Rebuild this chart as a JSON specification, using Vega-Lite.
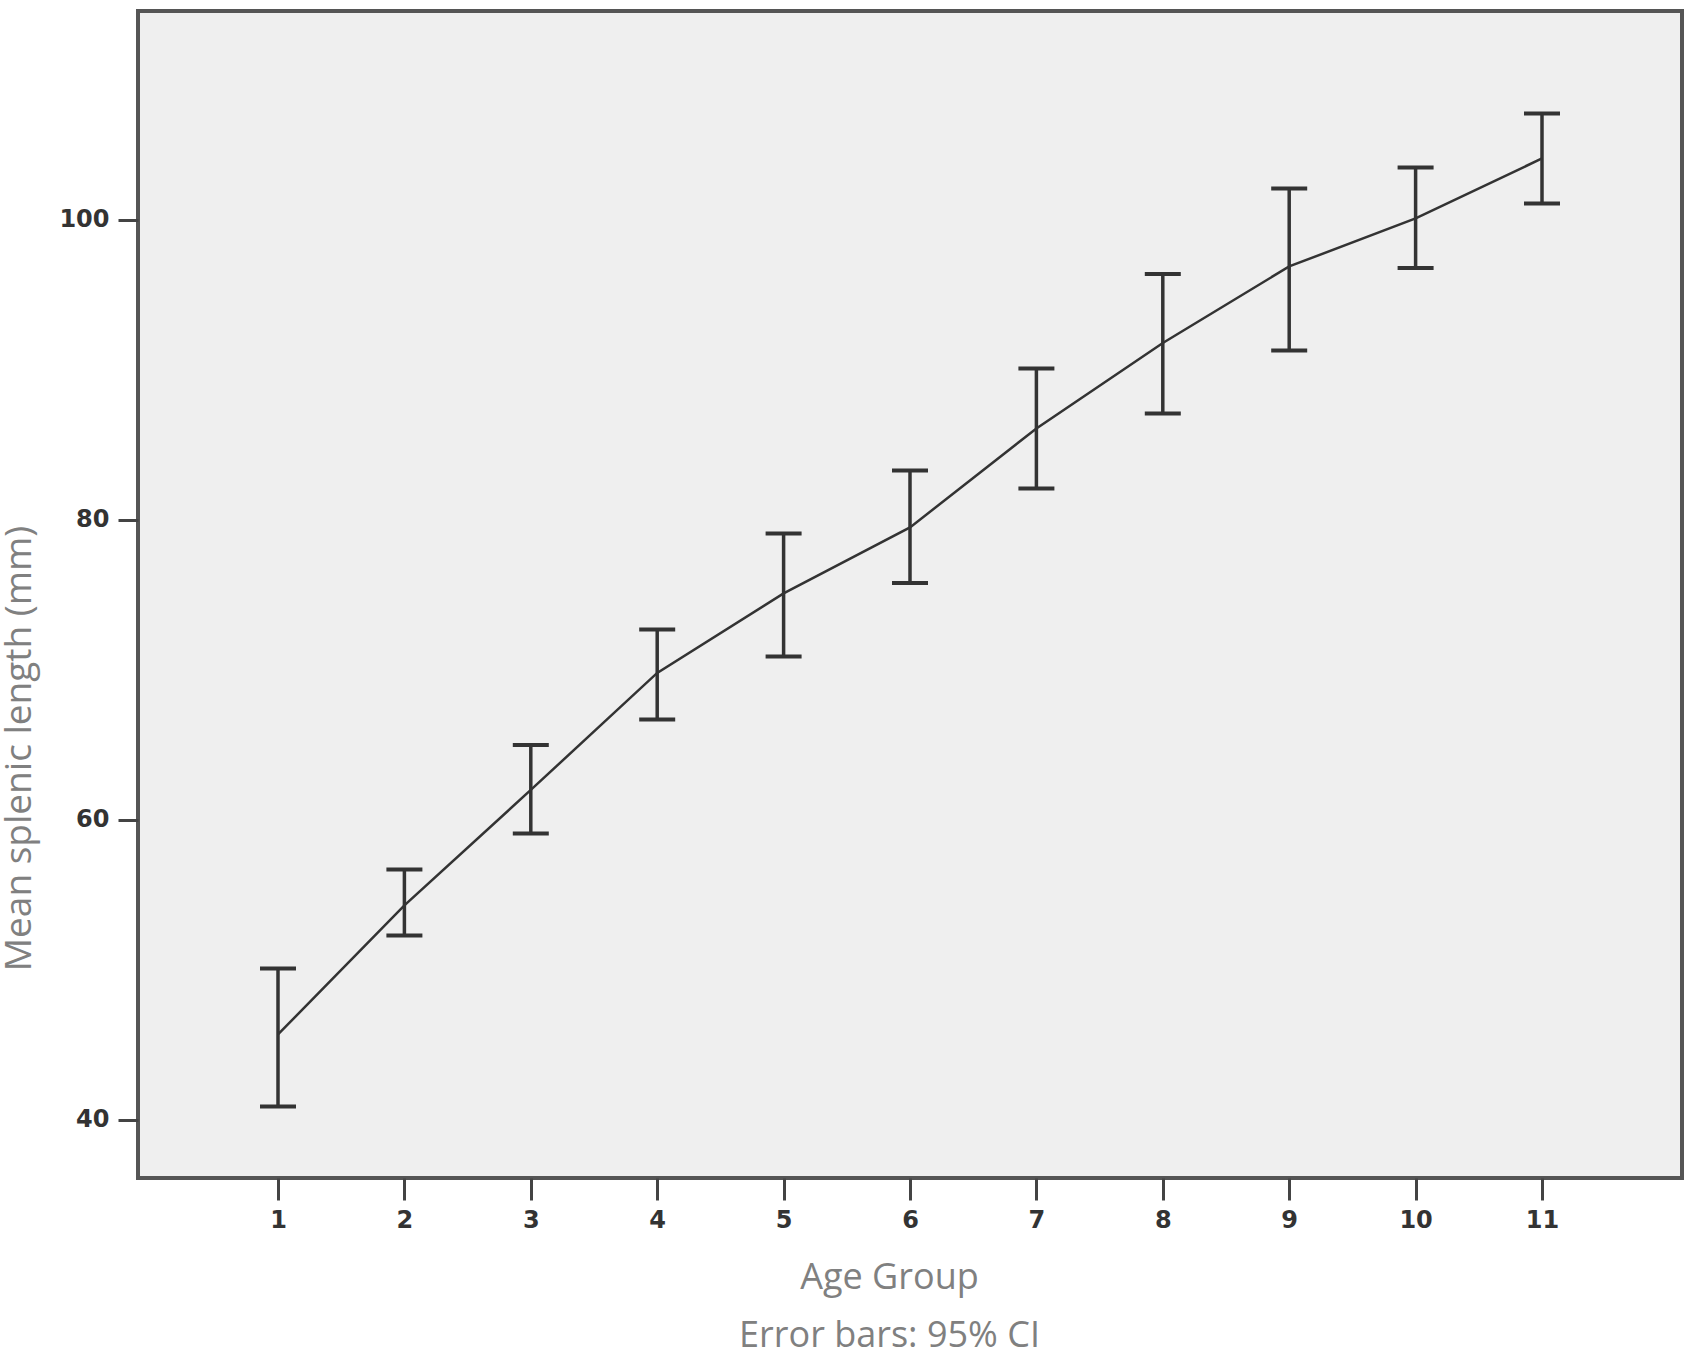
{
  "$schema": "https://vega.github.io/schema/vega-lite/v6.json",
  "description": "Mean splenic length by age group with 95% CI error bars.",
  "autosize": "none",
  "padding": {"left": 138, "top": 11, "right": 14, "bottom": 173},
  "width": 1544,
  "height": 1167,
  "background": "white",
  "data": {
    "values": [
      {"group": 1, "mean": 45.7, "lower": 40.9, "upper": 50.1},
      {"group": 2, "mean": 54.3, "lower": 52.3, "upper": 56.7},
      {"group": 3, "mean": 62.0, "lower": 59.1, "upper": 65.0},
      {"group": 4, "mean": 69.8, "lower": 66.7, "upper": 72.7},
      {"group": 5, "mean": 75.1, "lower": 70.9, "upper": 79.1},
      {"group": 6, "mean": 79.5, "lower": 75.8, "upper": 83.3},
      {"group": 7, "mean": 86.1, "lower": 82.1, "upper": 90.1},
      {"group": 8, "mean": 91.8, "lower": 87.1, "upper": 96.4},
      {"group": 9, "mean": 96.9, "lower": 91.3, "upper": 102.1},
      {"group": 10, "mean": 100.1, "lower": 96.8, "upper": 103.5},
      {"group": 11, "mean": 104.1, "lower": 101.1, "upper": 107.1}
    ]
  },
  "encoding": {
    "x": {
      "field": "group",
      "type": "quantitative",
      "scale": {"domain": [-0.1076, 12.1076], "nice": false, "zero": false},
      "axis": {
        "values": [1, 2, 3, 4, 5, 6, 7, 8, 9, 10, 11],
        "grid": false,
        "domain": false,
        "tickSize": 22,
        "tickWidth": 3,
        "tickColor": "#444444",
        "labelFont": "DejaVu Sans",
        "labelFontWeight": "bold",
        "labelFontSize": 24,
        "labelColor": "#333333",
        "labelPadding": 8,
        "title": ["Age Group", "Error bars: 95% CI"],
        "titleFont": "Open Sans",
        "titleFontSize": 36,
        "titleFontWeight": "normal",
        "titleColor": "#808080",
        "titleX": 751,
        "titleY": 110,
        "titleAlign": "center",
        "titleBaseline": "alphabetic",
        "titleLineHeight": 58
      }
    }
  },
  "layer": [
    {
      "mark": {"type": "rule", "color": "#333333", "strokeWidth": 3.5},
      "encoding": {
        "y": {
          "field": "lower",
          "type": "quantitative",
          "scale": {"domain": [36.13, 113.93], "nice": false, "zero": false},
          "axis": {
            "values": [40, 60, 80, 100],
            "grid": false,
            "domain": false,
            "tickSize": 20,
            "tickWidth": 3,
            "tickColor": "#444444",
            "labelFont": "DejaVu Sans",
            "labelFontWeight": "bold",
            "labelFontSize": 24,
            "labelColor": "#333333",
            "labelPadding": 9,
            "title": "Mean splenic length (mm)",
            "titleFont": "Open Sans",
            "titleFontSize": 37,
            "titleFontWeight": "normal",
            "titleColor": "#808080",
            "titleAngle": 270,
            "titleAlign": "center",
            "titleBaseline": "bottom",
            "titleX": -100,
            "titleY": 737
          }
        },
        "y2": {"field": "upper"}
      }
    },
    {
      "mark": {"type": "tick", "orient": "horizontal", "size": 36, "thickness": 4, "color": "#333333", "opacity": 1},
      "encoding": {"y": {"field": "lower", "type": "quantitative"}}
    },
    {
      "mark": {"type": "tick", "orient": "horizontal", "size": 36, "thickness": 4, "color": "#333333", "opacity": 1},
      "encoding": {"y": {"field": "upper", "type": "quantitative"}}
    },
    {
      "mark": {"type": "line", "color": "#333333", "strokeWidth": 2.5},
      "encoding": {"y": {"field": "mean", "type": "quantitative"}}
    }
  ],
  "config": {
    "view": {"fill": "#efefef", "stroke": "#555555", "strokeWidth": 4}
  }
}
